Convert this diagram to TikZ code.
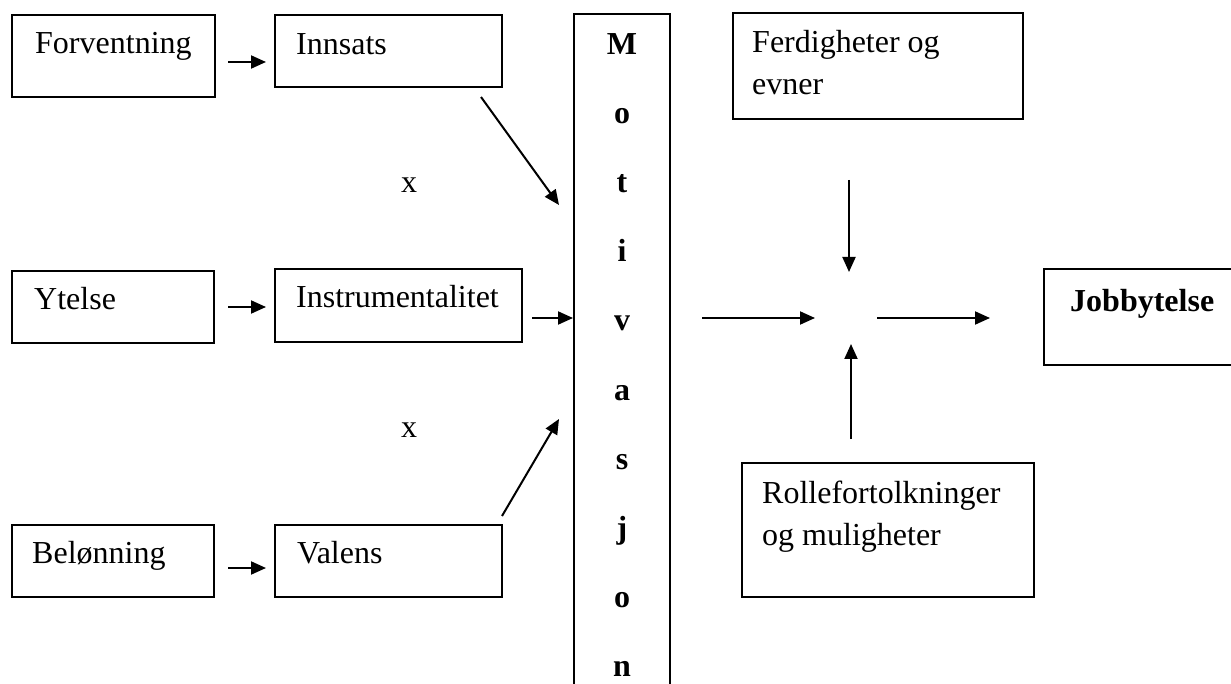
\documentclass[tikz,border=0pt]{standalone}
\usepackage{fontspec}
\setmainfont{Liberation Serif}
\usetikzlibrary{arrows.meta,calc}
\begin{document}
\begin{tikzpicture}[x=1pt,y=-1pt,
  box/.style={draw,line width=1.4pt,inner sep=0pt,outer sep=0pt,anchor=north west},
  txt/.style={inner sep=0pt,anchor=base west,font=\fontsize{32}{42}\selectfont,align=left},
  btxt/.style={inner sep=0pt,anchor=base,font=\fontsize{32}{42}\selectfont\bfseries},
  arr/.style={line width=2pt,-{Triangle[length=15pt,width=13pt]}}]
\useasboundingbox (0,0) rectangle (1231,684);
% boxes
\node[box,minimum width=203pt,minimum height=82pt] (forv) at (12,15) {};
\node[box,minimum width=227pt,minimum height=72pt] (inn) at (275,15) {};
\node[box,minimum width=202pt,minimum height=72pt] (ytel) at (12,271) {};
\node[box,minimum width=247pt,minimum height=73pt] (instr) at (275,269) {};
\node[box,minimum width=202pt,minimum height=72pt] (belo) at (12,525) {};
\node[box,minimum width=227pt,minimum height=72pt] (val) at (275,525) {};
\node[box,minimum width=96pt,minimum height=700pt] (motiv) at (574,14) {};
\node[box,minimum width=290pt,minimum height=106pt] (ferd) at (733,13) {};
\node[box,minimum width=200pt,minimum height=96pt] (jobby) at (1044,269) {};
\node[box,minimum width=292pt,minimum height=134pt] (rolle) at (742,463) {};
% texts
\node[txt] (forvT) at (35,54) {Forventning};
\node[txt] (innT) at (296,55) {Innsats};
\node[txt] (ytelT) at (34,310) {Ytelse};
\node[txt] (instrT) at (296,308) {Instrumentalitet};
\node[txt] (beloT) at (32,563) {Belønning};
\node[txt] (valT) at (297,563) {Valens};
\node[txt] (ferdT) at (752,95) {Ferdigheter og\\evner};
\node[txt] (rolleT) at (762,545) {Rollefortolkninger\\og muligheter};
\node[btxt,anchor=base west] (jobbyT) at (1070,312) {Jobbytelse};
\foreach \l [count=\k from 0] in {M,o,t,i,v,a,s,j,o,n}
  \node[btxt] (m\k) at (622,55+69*\k) {\l};
\node[txt,anchor=center] (x1) at (409,185) {x};
\node[txt,anchor=center] (x2) at (409,430) {x};
\coordinate (hub) at (850,318);
% arrows
\draw[arr] ($(forv.east)+(13,6)$) -- ($(inn.west)+(-9,11)$);
\draw[arr] ($(ytel.east)+(14,0)$) -- ($(instr.west)+(-9,1.5)$);
\draw[arr] ($(belo.east)+(14,7)$) -- ($(val.west)+(-9,7)$);
\draw[arr] ($(inn.south east)+(-21,10)$) -- ($(motiv.north west)+(-15,191)$);
\draw[arr] ($(instr.east)+(10,12.5)$) -- ($(motiv.north west)+(-1,304)$);
\draw[arr] ($(val.north east)+(0,-9)$) -- ($(motiv.north west)+(-15,405)$);
\draw[arr] ($(motiv.north east)+(32,304)$) -- ($(hub)+(-35,0)$);
\draw[arr] ($(hub)+(27,0)$) -- ($(jobby.west)+(-54,1)$);
\draw[arr] ($(ferd.south)+(-29,61)$) -- ($(hub)+(-1,-46)$);
\draw[arr] ($(rolle.north)+(-37,-24)$) -- ($(hub)+(1,26)$);
\end{tikzpicture}
\end{document}
